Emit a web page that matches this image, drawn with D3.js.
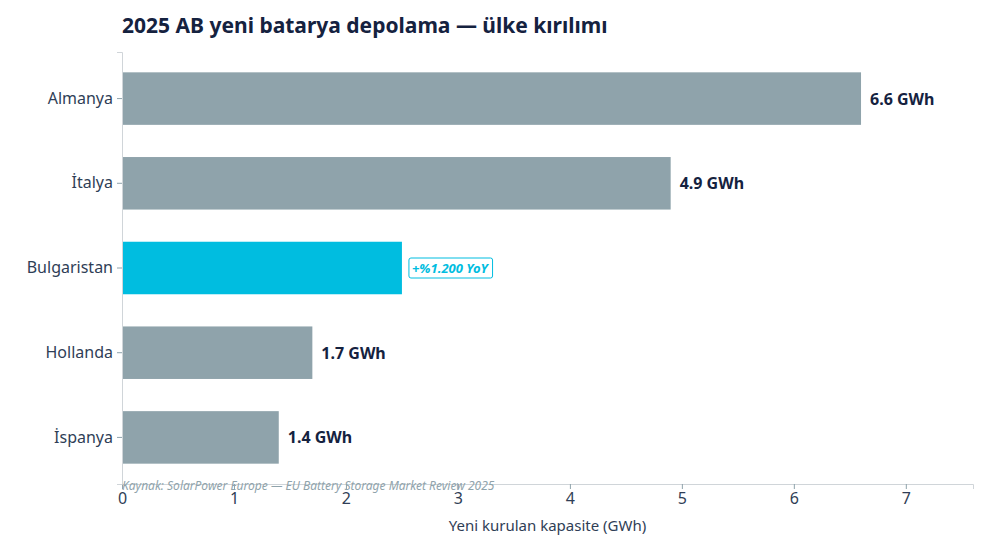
<!DOCTYPE html>
<html><head><meta charset="utf-8">
<script src="https://cdn.jsdelivr.net/npm/d3@7"></script>
<style>body{margin:0;background:#fff}svg{font-family:"Noto Sans",sans-serif}</style>
</head><body><div id="chart"></div>
<script>
var countries = ["Almanya", "İtalya", "Bulgaristan", "Hollanda", "İspanya"]
var values = [6.6, 4.9, 2.5, 1.7, 1.4]
var labels = ["6.6 GWh", "4.9 GWh", "+%1.200 YoY", "1.7 GWh", "1.4 GWh"]
var highlight = "Bulgaristan"
var xTicks = [0, 1, 2, 3, 4, 5, 6, 7]

var margin = {top: 52, right: 17, bottom: 66, left: 122}
var width = 990, height = 550
var svg = d3.select("#chart").append("svg").attr("width", width).attr("height", height)

var x = d3.scaleLinear().domain([0, 7.6]).range([margin.left, width - margin.right])
var y = d3.scaleBand().domain(countries).range([margin.top, height - margin.bottom]).paddingInner(0.38).paddingOuter(0.24)

svg.append("text").attr("x", 122).attr("y", 33).attr("font-size", 21).attr("font-weight", "bold")
   .attr("fill", "#15223f").text("2025 AB yeni batarya depolama — ülke kırılımı")

svg.selectAll("rect.bar").data(countries).enter().append("rect")
   .attr("class", "bar")
   .attr("x", x(0)).attr("y", d => y(d))
   .attr("width", (d, i) => x(values[i]) - x(0)).attr("height", y.bandwidth())
   .attr("fill", d => d == highlight ? "#00bde0" : "#8fa3ab")

var xAxis = svg.append("g").attr("transform", "translate(0," + (height - margin.bottom) + ")")
   .call(d3.axisBottom(x).tickValues(xTicks).tickSize(5).tickPadding(4))
var yAxis = svg.append("g").attr("transform", "translate(" + margin.left + ",0)")
   .call(d3.axisLeft(y).tickSize(5).tickPadding(4))
;[xAxis, yAxis].forEach(function(g) {
  g.select(".domain").attr("stroke", "#d0d5d9")
  g.selectAll(".tick line").attr("stroke", "#8fa3ab")
  g.selectAll(".tick text").attr("fill", "#2f3e56").attr("font-size", 16).attr("font-family", "Noto Sans, sans-serif")
})

svg.append("text").attr("x", (x(0) + x(7.6)) / 2).attr("y", 531).attr("text-anchor", "middle")
   .attr("font-size", 15).attr("fill", "#2f3e56").text("Yeni kurulan kapasite (GWh)")

countries.forEach(function(c, i) {
  var cy = y(c) + y.bandwidth() / 2
  if (c == highlight) {
    var box = svg.append("rect")
    var t = svg.append("text").attr("x", x(values[i]) + 10).attr("y", cy + 5)
       .attr("font-size", 13).attr("font-weight", "bold").attr("font-style", "italic")
       .attr("fill", "#00bde0").text(labels[i])
    var b = t.node().getBBox()
    box.attr("x", b.x - 3).attr("y", b.y - 1)
       .attr("width", b.width + 6).attr("height", b.height + 2).attr("rx", 2)
       .attr("fill", "#fff").attr("stroke", "#00bde0").attr("stroke-width", 1)
  } else {
    svg.append("text").attr("x", x(values[i]) + 9).attr("y", cy + 6)
       .attr("font-size", 16).attr("font-weight", "bold").attr("fill", "#15223f").text(labels[i])
  }
})

svg.append("text").attr("x", 122).attr("y", 490).attr("font-size", 12).attr("font-style", "italic")
   .attr("fill", "#8fa3ab").text("Kaynak: SolarPower Europe — EU Battery Storage Market Review 2025")
</script></body></html>
